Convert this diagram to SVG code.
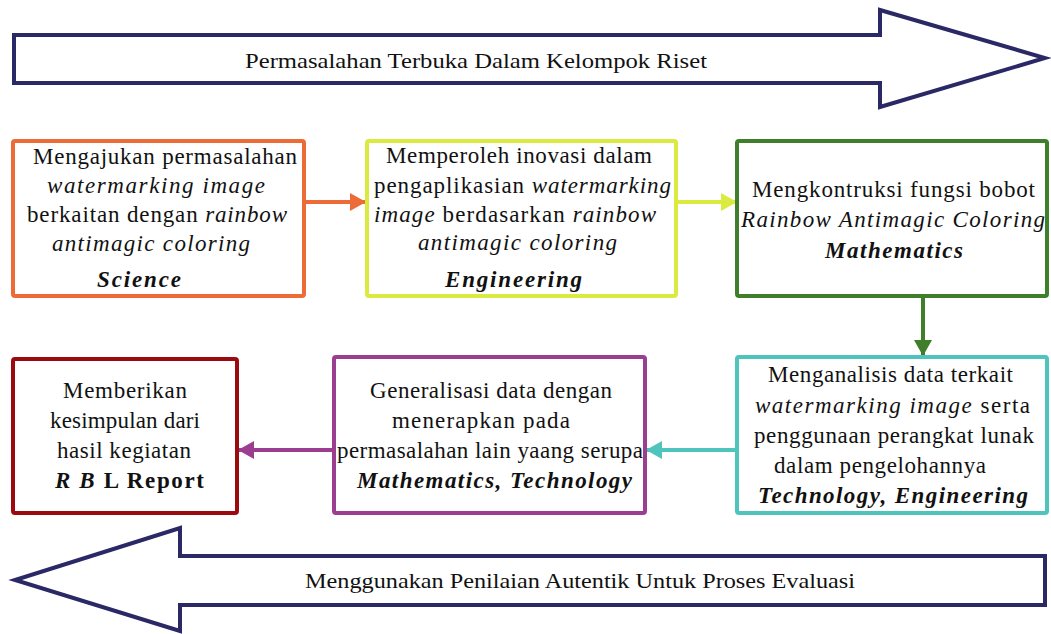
<svg xmlns="http://www.w3.org/2000/svg" width="1051" height="634" viewBox="0 0 1051 634" font-family="Liberation Serif, Tinos, Times New Roman, serif">
  <style>
    text { fill: #111; }
    .t { font-size: 23px; }
    .big { font-size: 22px; }
    .i { font-style: italic; }
    .b { font-weight: bold; }
    .bi { font-weight: bold; font-style: italic; }
    .box { fill: #fff; stroke-width: 4; }
    .band { fill: #fff; stroke: #2a2966; stroke-width: 4; stroke-linejoin: miter; }
    .link { fill: none; stroke-width: 4; }
  </style>
  <defs>
    <marker id="ah-orange" markerUnits="userSpaceOnUse" markerWidth="18" markerHeight="20" refX="16" refY="10" orient="auto">
      <path d="M0,1 L16,10 L0,19 z" fill="#ec6b36"/>
    </marker>
    <marker id="ah-lime" markerUnits="userSpaceOnUse" markerWidth="18" markerHeight="20" refX="16" refY="10" orient="auto">
      <path d="M0,1 L16,10 L0,19 z" fill="#dbea3e"/>
    </marker>
    <marker id="ah-green" markerUnits="userSpaceOnUse" markerWidth="18" markerHeight="20" refX="16" refY="10" orient="auto">
      <path d="M0,1 L16,10 L0,19 z" fill="#3f7f2b"/>
    </marker>
    <marker id="ah-teal" markerUnits="userSpaceOnUse" markerWidth="18" markerHeight="20" refX="16" refY="10" orient="auto">
      <path d="M0,1 L16,10 L0,19 z" fill="#4fc4bd"/>
    </marker>
    <marker id="ah-purple" markerUnits="userSpaceOnUse" markerWidth="18" markerHeight="20" refX="16" refY="10" orient="auto">
      <path d="M0,1 L16,10 L0,19 z" fill="#9b3e8f"/>
    </marker>
  </defs>

  <rect width="1051" height="634" fill="#fff"/>

  <!-- wide band arrow at the top -->
  <g id="band-top">
    <path class="band" d="M14,35 L880,35 L880,10 L1045,58 L880,107 L880,83 L14,83 z"/>
    <text class="big" x="245" y="68" textLength="462" lengthAdjust="spacingAndGlyphs">Permasalahan Terbuka Dalam Kelompok Riset</text>
  </g>

  <!-- wide band arrow at the bottom -->
  <g id="band-bottom">
    <path class="band" d="M1045,556 L180,556 L180,528 L15,580 L180,631 L180,605 L1045,605 z"/>
    <text class="big" x="305" y="588" textLength="550" lengthAdjust="spacingAndGlyphs">Menggunakan Penilaian Autentik Untuk Proses Evaluasi</text>
  </g>

  <!-- connectors -->
  <g id="connectors">
    <line class="link" stroke="#ec6b36" x1="305" y1="202" x2="366" y2="202" marker-end="url(#ah-orange)"/>
    <line class="link" stroke="#dbea3e" x1="677" y1="202" x2="737" y2="202" marker-end="url(#ah-lime)"/>
    <line class="link" stroke="#3f7f2b" x1="923" y1="297" x2="923" y2="356" marker-end="url(#ah-green)"/>
    <line class="link" stroke="#4fc4bd" x1="737" y1="450" x2="646" y2="450" marker-end="url(#ah-teal)"/>
    <line class="link" stroke="#9b3e8f" x1="334" y1="450" x2="238" y2="450" marker-end="url(#ah-purple)"/>
  </g>

  <g id="node-science">
    <rect class="box" stroke="#ec6b36" x="13" y="141" width="291" height="155" rx="2"/>
    <text class="t" x="33" y="164" textLength="264">Mengajukan permasalahan</text>
    <text class="t i" x="47" y="193" textLength="218">watermarking image</text>
    <text class="t" x="27" y="222" textLength="260">berkaitan dengan <tspan class="i">rainbow</tspan></text>
    <text class="t i" x="52" y="251" textLength="198">antimagic coloring</text>
    <text class="t bi" x="97" y="287" textLength="84">Science</text>
  </g>

  <g id="node-engineering">
    <rect class="box" stroke="#dbea3e" x="367" y="141" width="309" height="155" rx="2"/>
    <text class="t" x="386" y="163" textLength="266">Memperoleh inovasi dalam</text>
    <text class="t" x="374" y="193" textLength="297">pengaplikasian <tspan class="i">watermarking</tspan></text>
    <text class="t" x="374" y="222" textLength="282"><tspan class="i">image</tspan> berdasarkan <tspan class="i">rainbow</tspan></text>
    <text class="t i" x="418" y="250" textLength="199">antimagic coloring</text>
    <text class="t bi" x="445" y="287" textLength="137">Engineering</text>
  </g>

  <g id="node-mathematics">
    <rect class="box" stroke="#3f7f2b" x="737" y="141" width="310" height="155" rx="2"/>
    <text class="t" x="752" y="197" textLength="283">Mengkontruksi fungsi bobot</text>
    <text class="t i" x="741" y="227" textLength="304">Rainbow Antimagic Coloring</text>
    <text class="t bi" x="825" y="258" textLength="138">Mathematics</text>
  </g>

  <g id="node-analysis">
    <rect class="box" stroke="#4fc4bd" x="737" y="357" width="310" height="156" rx="2"/>
    <text class="t" x="768" y="382" textLength="245">Menganalisis data terkait</text>
    <text class="t" x="755" y="413" textLength="275"><tspan class="i">watermarking image</tspan> serta</text>
    <text class="t" x="754" y="443" textLength="280">penggunaan perangkat lunak</text>
    <text class="t" x="774" y="473" textLength="212">dalam pengelohannya</text>
    <text class="t bi" x="758" y="503" textLength="270">Technology, Engineering</text>
  </g>

  <g id="node-generalisation">
    <rect class="box" stroke="#9b3e8f" x="334" y="357" width="311" height="156" rx="2"/>
    <text class="t" x="370" y="398" textLength="242">Generalisasi data dengan</text>
    <text class="t" x="392" y="428" textLength="178">menerapkan pada</text>
    <text class="t" x="337" y="458" textLength="306">permasalahan lain yaang serupa</text>
    <text class="t bi" x="357" y="488" textLength="275">Mathematics, Technology</text>
  </g>

  <g id="node-report">
    <rect class="box" stroke="#9a0a0f" x="13" y="359" width="224" height="154" rx="2"/>
    <text class="t" x="63" y="398" textLength="124">Memberikan</text>
    <text class="t" x="50" y="428" textLength="150">kesimpulan dari</text>
    <text class="t" x="57" y="458" textLength="134">hasil kegiatan</text>
    <text class="t" x="55" y="488" textLength="149"><tspan class="bi">R B</tspan><tspan class="b"> L Report</tspan></text>
  </g>
</svg>
